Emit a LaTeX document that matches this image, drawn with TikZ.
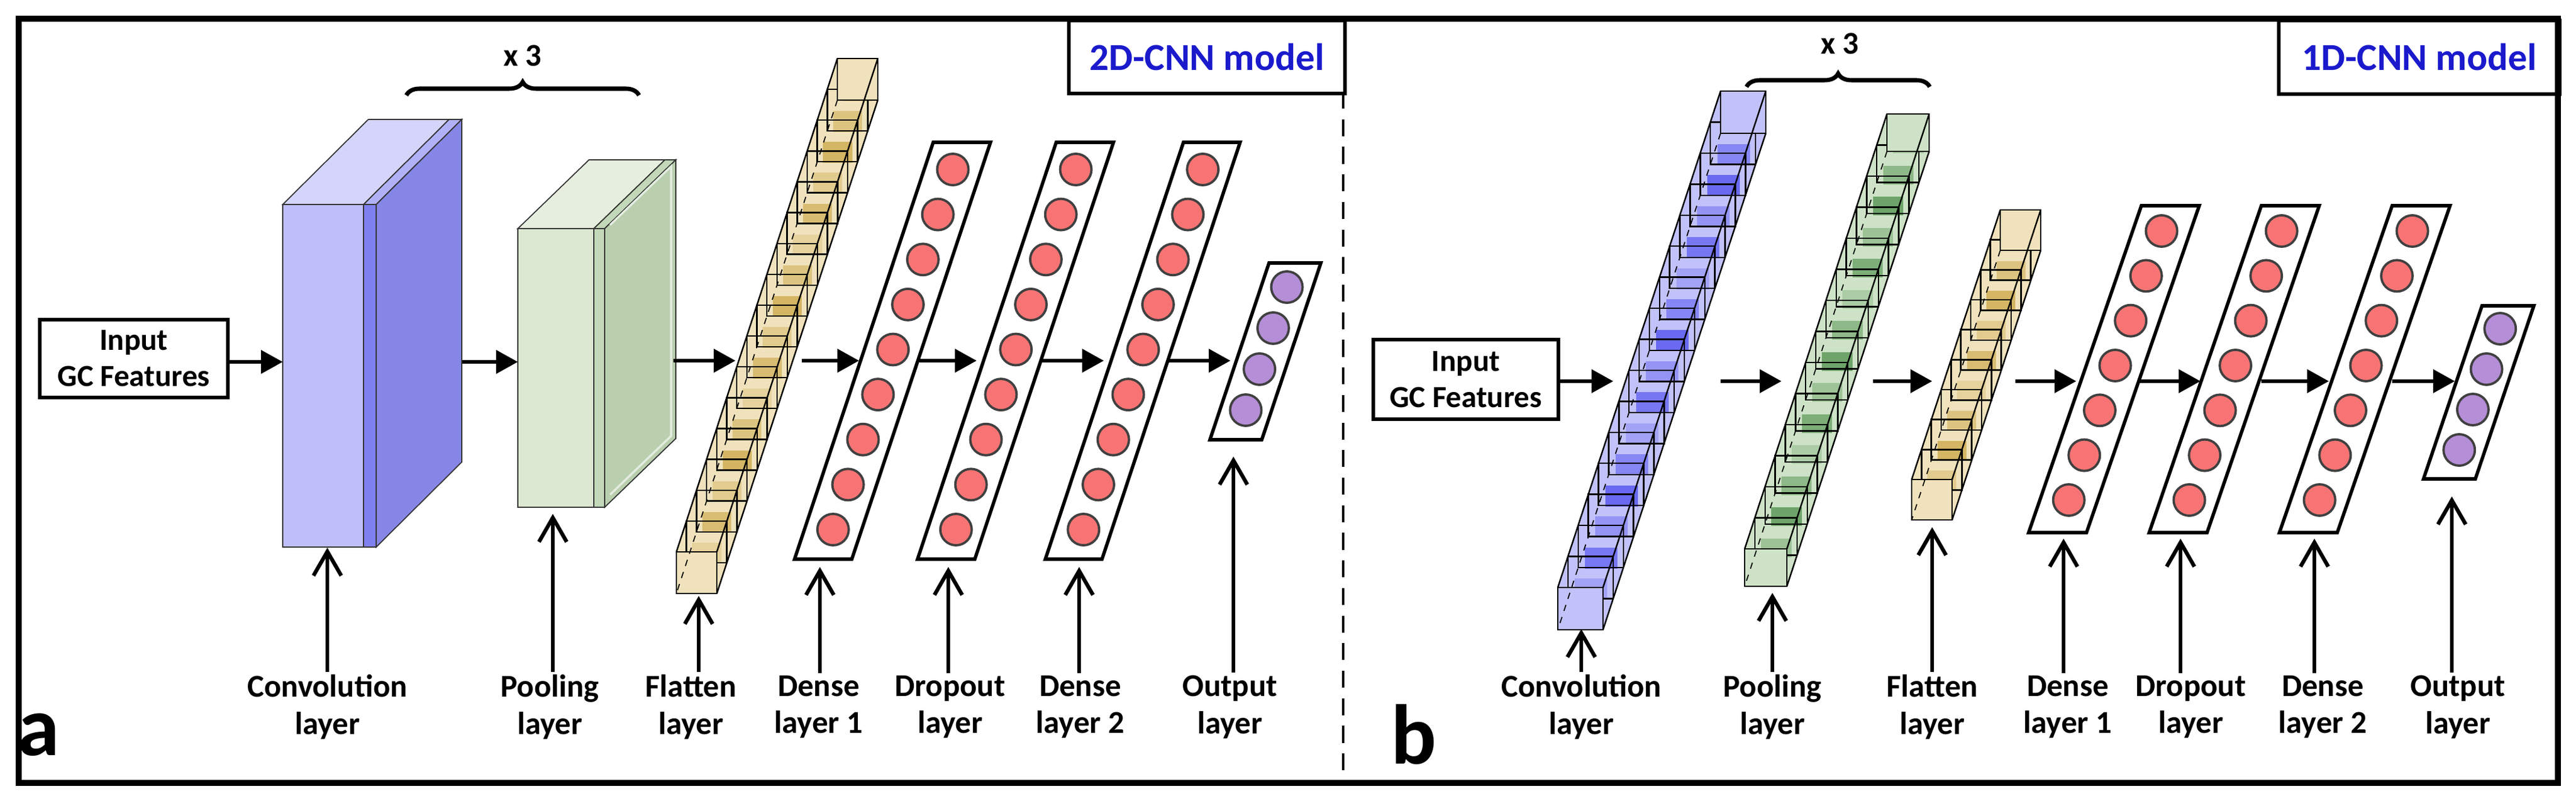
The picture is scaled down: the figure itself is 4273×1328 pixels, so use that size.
\documentclass[tikz,border=0pt]{standalone}
\usepackage{fontspec}
\setmainfont{Carlito}
\usetikzlibrary{arrows.meta,decorations.pathreplacing}
\definecolor{cvA}{HTML}{BEBEFA}\definecolor{cvB}{HTML}{8080F0}\definecolor{cvC}{HTML}{8686E6}\definecolor{cvD}{HTML}{D5D5FB}
\definecolor{plA}{HTML}{DDE8D3}\definecolor{plB}{HTML}{C3D8B8}\definecolor{plC}{HTML}{B9CFAE}\definecolor{plD}{HTML}{E6EFDF}
\definecolor{tnA}{HTML}{F0E2BC}\definecolor{tnB}{HTML}{CFAE55}
\definecolor{blA}{HTML}{C2C2FA}\definecolor{blB}{HTML}{5A5AF0}
\definecolor{gnA}{HTML}{CDE2C6}\definecolor{gnB}{HTML}{5E9A5A}
\definecolor{redc}{HTML}{F87474}\definecolor{purc}{HTML}{B48ED6}
\definecolor{ttl}{HTML}{1A1ACC}
\tikzset{
 frame/.style={line width=2.6pt},
 boxl/.style={line width=1.6pt},
 harr/.style={line width=1.8pt,-{Triangle[length=0.36cm,width=0.38cm]}},
 uarr/.style={line width=1.6pt,-{Straight Barb[length=0.4cm,width=0.46cm,line width=1.8pt]}},
 lab/.style={font=\fontsize{15}{17.6}\selectfont\bfseries,align=center,inner sep=1pt},
 face/.style={draw=black!80,line width=0.5pt},
}
% cube column: x y w h dx dy n light dark
\newcommand\cubecol[9]{%
 \fill[#8] (#1,#2) -- ++(#3,0) -- ++(0,#4) -- ++(#5,#6) -- ++(-#3,0) -- ++(0,-#4) -- cycle;
 \foreach \i in {0,...,\numexpr#7-1\relax}{
  \pgfmathsetmacro\op{0.3+0.55*mod(\i*7,5)/4}
  \fill[#9,opacity=\op] ({#1+(\i+0.3)/#7*(#5)+0.22*#3},{#2+(\i+0.3)/#7*(#6)+0.3*#4}) rectangle ++({0.72*#3},{0.5*#4});
 }
 \foreach \i in {0,...,#7}{
  \draw[line width=0.7pt] ({#1+\i/#7*(#5)},{#2+\i/#7*(#6)}) rectangle ++(#3,#4);
 }
 \fill[#8] ({#1+(#5)},{#2+(#6)}) rectangle ++(#3,#4);
 \draw[line width=0.7pt] ({#1+(#5)},{#2+(#6)}) rectangle ++(#3,#4);
 \fill[#8] (#1,#2) rectangle ++(#3,#4);
 \draw[line width=0.7pt] (#1,#2) rectangle ++(#3,#4);
 \draw[line width=0.7pt] (#1,#2) -- ++(#5,#6) ({#1+#3},#2) -- ++(#5,#6) ({#1+#3},{#2+#4}) -- ++(#5,#6);
 \draw[line width=0.5pt,dashed] (#1,{#2+#4}) -- ++(#5,#6);
}
% dense: xtl ytop xbl ybot w n y1 yn color
\newcommand\densel[9]{%
 \draw[boxl,fill=white] (#1,#2) -- ++(#5,0) -- ({#3+#5},#4) -- (#3,#4) -- cycle;
 \foreach \k in {1,...,#6}{
  \pgfmathsetmacro\yy{#7+(\k-1)/(#6-1)*(#8-#7)}
  \pgfmathsetmacro\xx{#1+#5/2+(\yy-#2)/(#4-#2)*(#3-#1)}
  \draw[fill=#9,line width=1.1pt,draw=black!75] (\xx,\yy) circle[radius=0.26cm];
 }
}
\begin{document}
\begin{tikzpicture}[x=0.01cm,y=-0.01cm]
\useasboundingbox (0,0) rectangle (4273,1328);
\fill[white] (0,0) rectangle (4273,1328);
% frame
\draw[frame] (31,31) rectangle (4243,1298);
\draw[line width=1.4pt,dash pattern=on 8pt off 5pt] (2228,152) -- (2228,1298);
\node[draw,boxl,minimum width=4.58cm,minimum height=1.21cm,anchor=north west,text=ttl,font=\fontsize{18}{20}\selectfont\bfseries] (t2) at (1770,31) {2D-CNN model};
\node[draw,boxl,minimum width=4.66cm,minimum height=1.22cm,anchor=north west,text=ttl,font=\fontsize{18}{20}\selectfont\bfseries] (t1) at (3777,31) {1D-CNN model};
\node[font=\fontsize{40}{40}\selectfont\bfseries] (la) at (64,1218) {a};
\node[font=\fontsize{40}{40}\selectfont\bfseries] (lb) at (2345,1218) {b};

% ===== LEFT =====
\node[draw,boxl,minimum width=3.12cm,minimum height=1.29cm,anchor=north west,lab,align=center,font=\fontsize{14.5}{17}\selectfont\bfseries] (inA) at (63,527) {Input\\GC Features};
% conv block
\fill[cvD,face] (469,339) -- (603,339) -- (745,198) -- (611,198) -- cycle;
\fill[cvA!80!cvB,face] (603,339) -- (624,339) -- (766,198) -- (745,198) -- cycle;
\fill[cvC,face] (624,339) -- (766,198) -- (766,766) -- (624,907) -- cycle;
\fill[cvA,face] (469,339) rectangle (603,907);
\fill[cvB,face] (603,339) rectangle (624,907);
\coordinate (convA) at (469,600);
\coordinate (convAo) at (767,600);
% pool block
\fill[plD,face] (859,379) -- (985,379) -- (1103,265) -- (977,265) -- cycle;
\fill[plB,face] (985,379) -- (1003,379) -- (1121,265) -- (1103,265) -- cycle;
\fill[plC,face] (1003,379) -- (1121,265) -- (1121,727) -- (1003,841) -- cycle;
\draw[white!60!plC,line width=1pt] (1012,373) -- (1113,276) -- (1113,723) -- (1012,820);
\fill[plA,face] (859,379) rectangle (985,841);
\fill[plB,face] (985,379) rectangle (1003,841);
\coordinate (poolA) at (859,600);
\coordinate (poolAo) at (1117,598);
% brace
\draw[line width=2pt,decorate,decoration={brace,amplitude=0.22cm}] (674,158) -- (1060,158);
\node[font=\fontsize{15}{16}\selectfont\bfseries] (x3a) at (867,92) {x 3};
% flatten
\cubecol{1389}{97}{67}{69}{-267}{818}{16}{tnA}{tnB}
\coordinate (flA) at (1220,598);
\coordinate (flAo) at (1330,598);
% dense
\densel{1548}{236}{1318}{927}{95}{9}{281}{878}{redc}
\densel{1752}{236}{1522}{927}{95}{9}{281}{878}{redc}
\densel{1963}{236}{1734}{927}{94}{9}{281}{878}{redc}
\densel{2105}{436}{2007}{729}{86}{4}{476}{680}{purc}
\coordinate (d1A) at (1425,598); \coordinate (d1Ao) at (1525,598);
\coordinate (d2A) at (1620,598); \coordinate (d2Ao) at (1728,598);
\coordinate (d3A) at (1831,598); \coordinate (d3Ao) at (1938,598);
\coordinate (oA) at (2041,598);
\draw[harr] (inA.east |- convA) -- (convA);
\draw[harr] (convAo) -- (poolA);
\draw[harr] (poolAo) -- (flA);
\draw[harr] (flAo) -- (d1A);
\draw[harr] (d1Ao) -- (d2A);
\draw[harr] (d2Ao) -- (d3A);
\draw[harr] (d3Ao) -- (oA);
% labels left
\node[lab] (l1) at (543,1172) {Convolution\\layer};
\node[lab] (l2) at (912,1172) {Pooling\\layer};
\node[lab] (l3) at (1146,1172) {Flatten\\layer};
\node[lab] (l4) at (1358,1172) {Dense\\layer 1};
\node[lab] (l5) at (1576,1172) {Dropout\\layer};
\node[lab] (l6) at (1792,1172) {Dense\\layer 2};
\node[lab] (l7) at (2040,1172) {Output\\layer};
\coordinate (u1) at (543,908); \coordinate (u2) at (917,852); \coordinate (u3) at (1159,988);
\coordinate (u4) at (1360,940); \coordinate (u5) at (1573,940); \coordinate (u6) at (1790,940); \coordinate (u7) at (2046,757);
\foreach \a/\b in {l1/u1,l2/u2,l3/u3,l4/u4,l5/u5,l6/u6,l7/u7}{\draw[uarr] (\a.north -| \b) -- (\b);}

% ===== RIGHT =====
\node[draw,boxl,minimum width=3.07cm,minimum height=1.32cm,anchor=north west,lab,align=center,font=\fontsize{14.5}{17}\selectfont\bfseries] (inB) at (2275,560) {Input\\GC Features};
\cubecol{2854}{151}{75}{70}{-270}{823}{16}{blA}{blB}
\cubecol{3130}{189}{70}{62}{-236}{721}{14}{gnA}{gnB}
\cubecol{3318}{348}{67}{67}{-147}{447}{9}{tnA}{tnB}
\draw[line width=2pt,decorate,decoration={brace,amplitude=0.22cm}] (2897,144) -- (3201,144);
\node[font=\fontsize{15}{16}\selectfont\bfseries] (x3b) at (3052,72) {x 3};
\densel{3552}{341}{3365}{883}{96}{7}{383}{829}{redc}
\densel{3751}{341}{3565}{883}{96}{7}{383}{829}{redc}
\densel{3968}{341}{3781}{883}{96}{7}{383}{829}{redc}
\densel{4117}{507}{4020}{794}{86}{4}{545}{746}{purc}
\coordinate (cB) at (2676,632); \coordinate (cBo) at (2854,632);
\coordinate (pB) at (2955,632); \coordinate (pBo) at (3107,632);
\coordinate (fB) at (3205,632); \coordinate (fBo) at (3343,632);
\coordinate (d1B) at (3444,632); \coordinate (d1Bo) at (3549,632);
\coordinate (d2B) at (3650,632); \coordinate (d2Bo) at (3751,632);
\coordinate (d3B) at (3863,632); \coordinate (d3Bo) at (3968,632);
\coordinate (oB) at (4072,632);
\draw[harr] (inB.east |- cB) -- (cB);
\draw[harr] (cBo) -- (pB);
\draw[harr] (pBo) -- (fB);
\draw[harr] (fBo) -- (d1B);
\draw[harr] (d1Bo) -- (d2B);
\draw[harr] (d2Bo) -- (d3B);
\draw[harr] (d3Bo) -- (oB);
\node[lab] (r1) at (2623,1172) {Convolution\\layer};
\node[lab] (r2) at (2940,1172) {Pooling\\layer};
\node[lab] (r3) at (3205,1172) {Flatten\\layer};
\node[lab] (r4) at (3430,1172) {Dense\\layer 1};
\node[lab] (r5) at (3634,1172) {Dropout\\layer};
\node[lab] (r6) at (3853,1172) {Dense\\layer 2};
\node[lab] (r7) at (4077,1172) {Output\\layer};
\coordinate (v1) at (2623,1043); \coordinate (v2) at (2940,983); \coordinate (v3) at (3205,874);
\coordinate (v4) at (3423,893); \coordinate (v5) at (3617,893); \coordinate (v6) at (3839,893); \coordinate (v7) at (4067,823);
\foreach \a/\b in {r1/v1,r2/v2,r3/v3,r4/v4,r5/v5,r6/v6,r7/v7}{\draw[uarr] (\a.north -| \b) -- (\b);}
\end{tikzpicture}
\end{document}
